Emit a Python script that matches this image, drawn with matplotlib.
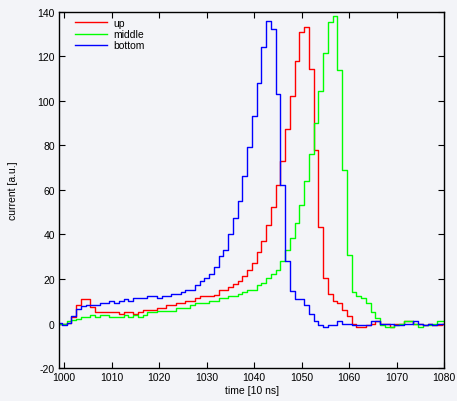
import numpy as np
import matplotlib
matplotlib.use("Agg")
import matplotlib.pyplot as plt

plt.rcParams["font.family"] = ["Liberation Sans", "DejaVu Sans"]
plt.rcParams["axes.unicode_minus"] = False

# time bins [10 ns]
t = np.arange(999, 1081)

up = [0, 0, 0.3, 3.0, 8.5, 11.2, 11.2, 7.3, 5.2, 5.2,
      5.2, 5.2, 5.2, 4.1, 5.2, 5.2, 4.1, 5.2, 6.2, 6.2,
      6.2, 7.0, 7.0, 8.2, 8.2, 9.3, 9.3, 10.3, 10.3, 11.3,
      12.3, 12.3, 12.3, 12.8, 15.2, 15.2, 16.2, 17.9, 19.1, 21.2,
      24.2, 27.4, 32.3, 37.2, 44.3, 52.2, 62.2, 73.2, 87.4, 102.1,
      118.1, 131.1, 133.1, 114.2, 78.1, 43.2, 20.3, 13.3, 10.2, 9.2,
      6.2, 3.2, 0, -1.7, -1.7, -0.8, 0, 1.0, 0, 0,
      -1.7, 0, 0, 1.0, 1.0, 0, 0, -0.8, 0, -0.8,
      -0.8, 0]

middle = [0, 0, 1.2, 1.8, 2.2, 3.1, 3.1, 4.0, 3.1, 4.0,
          4.0, 3.1, 3.1, 3.1, 4.0, 3.1, 4.0, 3.1, 4.0, 5.0,
          5.0, 5.8, 5.8, 5.8, 5.8, 7.0, 7.0, 7.0, 8.2, 9.3,
          9.3, 9.3, 10.3, 10.3, 11.3, 11.3, 12.3, 12.3, 13.3, 14.0,
          15.2, 15.2, 17.1, 18.2, 20.3, 22.2, 24.2, 28.2, 33.2, 38.2,
          45.0, 53.3, 64.2, 76.2, 90.1, 104.4, 121.5, 135.4, 138.3, 114.1,
          69.1, 30.9, 14.0, 12.2, 11.3, 9.2, 5.3, 2.3, -0.8, -1.7,
          -1.7, -0.8, 0, 1.0, 1.0, 0, -1.7, -0.8, -0.8, 0,
          1.0, 1.0]

bottom = [0.3, -0.8, 0.3, 3.5, 6.5, 8.0, 8.5, 8.5, 8.5, 9.3,
          9.3, 10.2, 9.2, 10.2, 11.2, 10.1, 11.3, 11.3, 11.3, 12.2,
          12.2, 11.3, 12.2, 12.2, 13.1, 13.1, 14.2, 15.2, 15.2, 17.2,
          19.2, 20.3, 22.2, 25.2, 30.2, 33.2, 40.2, 47.3, 55.2, 66.1,
          79.2, 93.1, 108.1, 124.2, 136.1, 132.4, 103.1, 62.4, 28.2, 14.5,
          11.2, 11.2, 8.2, 4.1, 1.1, -0.8, -1.7, -0.8, -0.8, 1.0,
          0, 0, -0.8, -0.8, -0.8, -0.8, 1.0, 1.0, 0, 0,
          0, -0.8, -0.8, 0, 0, 1.0, 0, -0.8, 0, -0.8,
          0, 0]

bg = "#f3f4f8"
fig = plt.figure(figsize=(4.57, 4.02), dpi=100, facecolor=bg)
ax = fig.add_axes([0.129, 0.082, 0.843, 0.886], facecolor=bg)

ax.step(t, up, where="mid", color="#ff0000", lw=1.0, label="up")
ax.step(t, middle, where="mid", color="#00ff00", lw=1.0, label="middle")
ax.step(t, bottom, where="mid", color="#0000ff", lw=1.0, label="bottom")

ax.set_xlim(998.9, 1080)
ax.set_ylim(-20, 140)
ax.set_xticks(np.arange(1000, 1081, 10))
ax.set_yticks(np.arange(-20, 141, 20))
ax.tick_params(direction="in", length=4, width=0.8, top=True, right=True,
               labelsize=7.5, pad=3)
for s in ax.spines.values():
    s.set_linewidth(1.0)

ax.set_xlabel("time [10 ns]", fontsize=7.5, labelpad=2)
ax.set_ylabel("current [a.u.]", fontsize=7.5, labelpad=14)

ax.legend(loc="upper left", frameon=False, fontsize=7.5, handlelength=3.1,
          handletextpad=0.6, labelspacing=0.1, borderaxespad=0.2,
          bbox_to_anchor=(0.025, 1.0))

fig.savefig("out.png", dpi=100, facecolor=bg)
